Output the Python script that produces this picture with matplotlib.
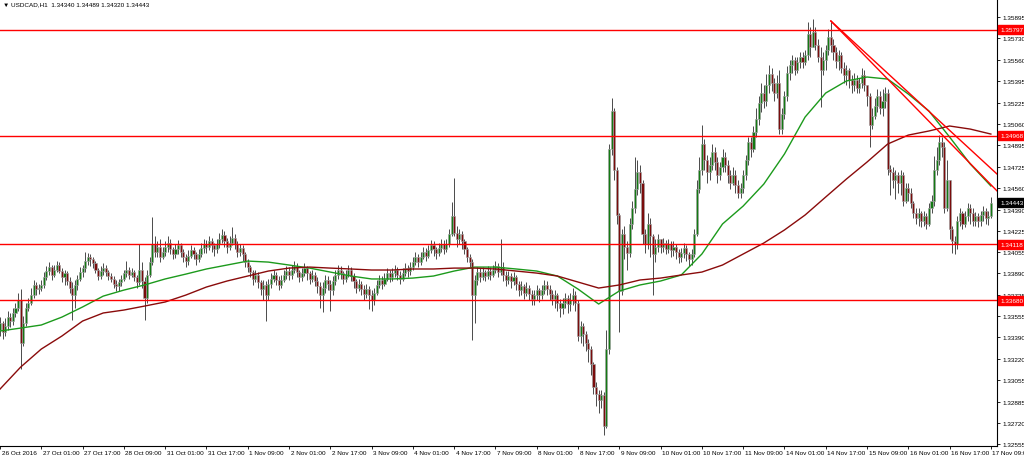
import numpy as np
import matplotlib
matplotlib.use("Agg")
import matplotlib.pyplot as plt
from matplotlib.transforms import blended_transform_factory, ScaledTranslation

# USDCAD H1, prices stored as pips above 1.3000
BASE = 1.3
first_open = 345

closes = [
    350, 343, 348, 355, 352, 358, 362, 368, 335, 350, 362, 366, 372, 380, 377, 378,
    380, 386, 391, 394, 388, 392, 396, 391, 386, 389, 383, 378, 372, 380, 385, 390,
    393, 399, 402, 400, 397, 392, 387, 391, 393, 390, 387, 385, 381, 379, 382, 385,
    389, 392, 388, 390, 386, 382, 392, 383, 370, 388, 398, 412, 406, 410, 402, 406,
    410, 413, 408, 404, 408, 411, 406, 402, 399, 403, 407, 404, 400, 404, 409, 412,
    410, 414, 411, 408, 412, 416, 419, 414, 410, 413, 417, 412, 406, 409, 404, 398,
    394, 390, 385, 388, 382, 377, 380, 372, 381, 385, 388, 384, 380, 384, 388, 391,
    388, 392, 395, 390, 386, 389, 393, 389, 385, 388, 383, 379, 372, 378, 384, 381,
    376, 383, 388, 392, 389, 385, 388, 392, 387, 383, 378, 381, 377, 373, 377, 372,
    368, 374, 380, 384, 381, 385, 389, 386, 389, 392, 388, 385, 389, 393, 391, 394,
    398, 402, 398, 402, 406, 403, 407, 411, 408, 405, 409, 412, 408, 412, 420, 434,
    421, 416, 420, 414, 408, 402, 398, 372, 384, 390, 386, 390, 387, 391, 388, 392,
    395, 390, 394, 388, 384, 387, 383, 386, 381, 376, 379, 374, 378, 373, 369, 372,
    376, 372, 376, 380, 377, 373, 369, 372, 366, 362, 366, 370, 365, 368, 372, 366,
    340, 348, 342, 335, 330, 318, 300, 295, 290, 294, 270, 330, 486, 516, 470, 435,
    375, 420, 410, 405, 428, 440, 455, 468, 460, 420, 412, 428, 418, 404, 410, 416,
    410, 413, 408, 412, 407, 410, 406, 402, 405, 409, 404, 400, 404, 420, 455, 470,
    490, 478, 468, 474, 484, 476, 466, 472, 480, 474, 466, 460, 466, 458, 452, 456,
    466, 478, 492, 486, 500, 510, 522, 530, 524, 536, 545, 538, 530, 538, 502, 514,
    528, 546, 552, 556, 548, 554, 558, 554, 560, 576, 566, 578, 568, 558, 548, 556,
    564, 574, 568, 562, 555, 560, 550, 544, 548, 540, 536, 540, 534, 538, 544, 536,
    528, 505, 512, 520, 528, 518, 524, 530, 471, 468, 462, 466, 460, 466, 446, 456,
    452, 444, 436, 432, 436, 430, 434, 428, 440, 446, 470, 478, 492, 488, 440, 462,
    424, 414, 412, 430, 436, 428, 434, 440, 436, 430, 434, 430, 435, 438, 432, 434, 444,
]
highs = [
    355, 352, 354, 360, 358, 362, 366, 374, 377, 356, 366, 370, 378, 384, 382, 381,
    384, 390, 395, 398, 396, 396, 399, 398, 393, 392, 391, 386, 382, 384, 388, 394,
    396, 406, 405, 404, 402, 399, 393, 395, 397, 396, 392, 389, 387, 384, 385, 388,
    392, 399, 394, 393, 392, 388, 412, 398, 386, 392, 402, 433, 418, 414, 416, 410,
    414, 418, 416, 410, 412, 415, 413, 408, 404, 407, 411, 410, 406, 408, 413, 416,
    415, 418, 417, 413, 416, 421, 424, 422, 417, 418, 425, 420, 414, 412, 411, 406,
    400, 396, 392, 392, 390, 384, 384, 383, 385, 389, 392, 390, 387, 388, 392, 395,
    394, 396, 399, 397, 392, 393, 397, 395, 391, 392, 390, 386, 382, 382, 388, 387,
    384, 387, 392, 396, 395, 391, 392, 396, 394, 389, 385, 385, 383, 380, 381, 379,
    376, 378, 384, 388, 387, 389, 393, 392, 393, 396, 394, 391, 393, 397, 396, 398,
    402, 406, 404, 406, 410, 409, 411, 415, 414, 410, 413, 416, 415, 416, 424, 445,
    464, 426, 424, 422, 416, 410, 404, 400, 388, 394, 393, 394, 392, 395, 394, 396,
    399, 397, 416, 398, 391, 391, 389, 390, 388, 383, 383, 381, 382, 380, 376, 376,
    380, 378, 380, 384, 383, 380, 376, 376, 374, 369, 370, 374, 372, 374, 378, 375,
    368, 352, 350, 344, 338, 332, 320, 304, 298, 298, 296, 345, 490, 526, 518, 472,
    436, 424, 426, 414, 432, 446, 480, 478, 474, 462, 424, 436, 432, 420, 416, 420,
    416, 417, 415, 416, 414, 414, 412, 408, 409, 413, 411, 406, 408, 424, 462, 480,
    505, 494, 482, 480, 490, 488, 480, 476, 486, 484, 478, 470, 472, 470, 462, 460,
    470, 482, 496, 496, 504, 518, 528, 538, 536, 545, 552, 550, 542, 544, 548, 518,
    532, 551, 556, 560, 558, 558, 562, 562, 564, 586, 582, 588, 582, 572, 566, 562,
    568, 580, 586, 572, 566, 564, 562, 554, 552, 550, 544, 546, 544, 542, 550, 548,
    536, 530, 518, 526, 533, 532, 533, 535, 533, 474, 472, 470, 468, 470, 468, 460,
    460, 456, 446, 440, 440, 438, 438, 436, 444, 450, 481, 488, 497, 496, 492, 478,
    462, 426, 418, 434, 440, 438, 438, 444, 443, 440, 437, 436, 438, 442, 440, 438, 449,
]
lows = [
    340, 338, 340, 345, 347, 349, 355, 360, 314, 332, 348, 360, 364, 370, 372, 373,
    375, 378, 384, 388, 384, 386, 390, 389, 382, 380, 380, 374, 353, 362, 376, 383,
    386, 390, 396, 395, 393, 389, 384, 385, 388, 387, 384, 382, 378, 375, 375, 379,
    383, 386, 385, 386, 383, 378, 380, 378, 353, 366, 386, 396, 402, 402, 398, 400,
    403, 406, 404, 400, 401, 404, 402, 398, 394, 396, 401, 400, 396, 398, 402, 405,
    405, 407, 406, 403, 405, 409, 413, 410, 405, 407, 411, 408, 402, 403, 399, 394,
    390, 386, 380, 382, 378, 372, 368, 352, 368, 378, 382, 380, 376, 378, 382, 385,
    384, 385, 389, 386, 382, 383, 387, 384, 381, 382, 379, 374, 362, 359, 374, 376,
    360, 372, 380, 385, 385, 381, 382, 386, 383, 378, 374, 375, 372, 368, 370, 361,
    360, 364, 372, 378, 377, 379, 383, 382, 383, 386, 384, 381, 383, 387, 386, 388,
    392, 396, 394, 396, 400, 399, 401, 405, 403, 400, 403, 406, 404, 406, 410, 418,
    418, 410, 412, 408, 404, 398, 394, 337, 350, 380, 382, 384, 383, 385, 384, 386,
    389, 386, 388, 383, 379, 381, 378, 380, 376, 371, 372, 369, 371, 368, 364, 364,
    368, 367, 369, 373, 372, 368, 364, 362, 360, 355, 357, 362, 358, 360, 364, 360,
    336, 335, 332, 328, 320, 310, 295, 285, 280, 284, 263, 268, 326, 482, 462, 428,
    343, 372, 400, 392, 402, 424, 436, 450, 452, 412, 405, 408, 402, 372, 398, 406,
    405, 406, 404, 405, 402, 403, 400, 397, 398, 401, 399, 395, 396, 402, 418, 452,
    466, 470, 460, 462, 470, 470, 460, 462, 468, 468, 460, 455, 458, 452, 448, 448,
    452, 462, 474, 480, 484, 496, 505, 515, 518, 520, 530, 532, 524, 526, 498, 498,
    510, 524, 540, 546, 544, 546, 550, 550, 552, 556, 558, 566, 564, 554, 519, 544,
    548, 560, 562, 556, 550, 548, 546, 538, 536, 534, 530, 532, 530, 530, 534, 532,
    520, 488, 502, 510, 515, 514, 512, 518, 466, 450, 456, 447, 452, 450, 442, 444,
    446, 440, 432, 428, 426, 425, 426, 424, 426, 436, 442, 466, 474, 480, 436, 438,
    416, 405, 404, 408, 426, 424, 425, 430, 428, 426, 426, 425, 426, 430, 428, 427, 432,
]

# moving averages, one value every 8 bars (pips above 1.3000)
ma_step = 8
ma_fast = [
    344.0, 346.3, 348.7, 354.9, 362.8, 371.3, 376.0, 380.0, 384.7, 388.5, 392.5, 395.6,
    398.7, 397.9, 395.6, 393.2, 390.1, 387.0, 384.7, 384.7, 385.4, 387.0, 390.9, 394.0,
    394.0, 392.5, 390.9, 387.0, 376.8, 365.1, 375.3, 380.0, 383.1, 387.8, 404.2, 427.7,
    441.7, 458.9, 482.4, 511.3, 530.1, 539.5, 542.6, 541.0, 529.3, 516.0, 495.7, 474.6,
    457.4,
]
ma_slow = [
    298.6, 315.8, 329.9, 340.1, 351.8, 358.1, 360.4, 363.5, 366.7, 372.1, 378.4, 383.1,
    387.0, 390.9, 393.2, 394.0, 393.2, 392.5, 391.7, 391.7, 392.5, 392.5, 393.2, 393.2,
    392.5, 390.9, 389.3, 387.0, 382.3, 377.6, 380.0, 383.9, 385.4, 387.8, 390.1, 395.6,
    404.2, 412.8, 423.0, 434.7, 448.8, 462.8, 476.1, 490.2, 497.2, 500.4, 504.3, 501.9,
    498.0,
]

levels = [1.35797, 1.34968, 1.34118, 1.33680]
# trend lines: (bar, price) anchors
trend_lines = [((322, 1.35864), (386.4, 1.34667)),
               ((322, 1.35864), (386.4, 1.34535))]

header = "USDCAD,H1  1.34340 1.34489 1.34320 1.34443"
last_price = 1.34443

price_ticks = [1.35895, 1.35730, 1.35560, 1.35395, 1.35225, 1.35060, 1.34895,
               1.34725, 1.34560, 1.34390, 1.34225, 1.34055, 1.33890, 1.33725,
               1.33555, 1.33390, 1.33220, 1.33055, 1.32885, 1.32720, 1.32555]
time_labels = ["26 Oct 2016", "27 Oct 01:00", "27 Oct 17:00", "28 Oct 09:00",
               "31 Oct 01:00", "31 Oct 17:00", "1 Nov 09:00", "2 Nov 01:00",
               "2 Nov 17:00", "3 Nov 09:00", "4 Nov 01:00", "4 Nov 17:00",
               "7 Nov 09:00", "8 Nov 01:00", "8 Nov 17:00", "9 Nov 09:00",
               "10 Nov 01:00", "10 Nov 17:00", "11 Nov 09:00", "14 Nov 01:00",
               "14 Nov 17:00", "15 Nov 09:00", "16 Nov 01:00", "16 Nov 17:00",
               "17 Nov 09:00"]
label_step = 16

FS = 4.6
FONT = ['Liberation Sans', 'DejaVu Sans']
plt.rcParams['font.family'] = FONT

W, H = 1024, 456
fig = plt.figure(figsize=(W / 100, H / 100), dpi=100)
ax = fig.add_axes([0, 9 / H, 997 / W, 447 / H])

n = len(closes)
idx = np.arange(n)
c = BASE + np.array(closes) / 1e4
o = BASE + np.array([first_open] + closes[:-1]) / 1e4
h = BASE + np.array(highs) / 1e4
l = BASE + np.array(lows) / 1e4
h = np.maximum(h, np.maximum(o, c))
l = np.minimum(l, np.minimum(o, c))

# wicks
ax.vlines(idx, l, h, color='#4a4a4a', linewidth=0.7, zorder=2)
# bodies
up = c >= o
body = np.maximum(np.abs(c - o), 0.00004)
ax.bar(idx[up], body[up], bottom=o[up], width=0.8, color='#137a13',
       edgecolor='#a0a0a0', linewidth=0.45, zorder=3)
ax.bar(idx[~up], body[~up], bottom=c[~up], width=0.8, color='#7a0c0c',
       edgecolor='#a0a0a0', linewidth=0.45, zorder=3)

ma_x = np.arange(0, n, ma_step)
ax.plot(ma_x, BASE + np.array(ma_fast) / 1e4, color='#1c9a1c', lw=1.0, zorder=4)
ax.plot(ma_x, BASE + np.array(ma_slow) / 1e4, color='#8a0b0b', lw=1.0, zorder=4)

for lv in levels:
    ax.axhline(lv, color='#ff0000', lw=1.0, zorder=5)
for (x0, y0), (x1, y1) in trend_lines:
    ax.plot([x0, x1], [y0, y1], color='#ff0000', lw=1.0, zorder=5)

x_lo, x_hi = 1 / 2.583, 998 / 2.583
ax.set_xlim(x_lo, x_hi)
ax.set_ylim(1.32541, 1.36036)

for s in ['top', 'left']:
    ax.spines[s].set_visible(False)
ax.spines['right'].set_linewidth(0.8)
ax.spines['bottom'].set_linewidth(0.8)

ax.yaxis.tick_right()
ax.set_yticks(price_ticks)
ax.set_yticklabels([f"{p:.5f}" for p in price_ticks])
ax.tick_params(axis='y', direction='out', length=2.5, width=0.6, pad=1.5,
               labelsize=FS, colors='black')

ax.set_xticks(np.arange(0, n, label_step))
ax.set_xticklabels(time_labels)
ax.tick_params(axis='x', direction='out', length=2.5, width=0.6, pad=0.6,
               labelsize=FS)
shift = ScaledTranslation(1.5 / 100, 0, fig.dpi_scale_trans)
for t in ax.get_xticklabels():
    t.set_horizontalalignment('left')
    t.set_transform(t.get_transform() + shift)

blend = blended_transform_factory(ax.transAxes, ax.transData)
for lv in levels:
    ax.text(1.003, lv, f"{lv:.5f}", transform=blend, ha='left', va='center',
            fontsize=FS, color='white', zorder=10, clip_on=False,
            bbox=dict(boxstyle='square,pad=0.3', fc='#ff0000', ec='#ff0000'))
ax.text(1.003, last_price, f"{last_price:.5f}", transform=blend, ha='left',
        va='center', fontsize=FS, color='white', zorder=10, clip_on=False,
        bbox=dict(boxstyle='square,pad=0.3', fc='black', ec='black'))

fig.text(3 / W, 1 - 5 / H, "\u25bc " + header, fontsize=FS, va='center',
         ha='left', family=FONT)

fig.savefig("out.png", dpi=100, facecolor='white')
